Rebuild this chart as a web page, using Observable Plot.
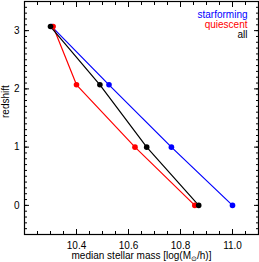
<!DOCTYPE html>
<html><head><meta charset="utf-8">
<script src="https://cdn.jsdelivr.net/npm/d3@7"></script>
<script src="https://cdn.jsdelivr.net/npm/@observablehq/plot@0.6"></script>
<style>body{margin:0;background:#fff}svg{display:block}</style>
</head><body><div id="chart"></div>
<script>
const redshift = [3.07, 2.07, 1.0, 0.0];
const massStarforming = [10.305, 10.525, 10.765, 11.0];
const massQuiescent = [10.31, 10.40, 10.625, 10.855];
const massAll = [10.30, 10.49, 10.67, 10.87];
const seriesNames = ["starforming", "quiescent", "all"];
const seriesColors = ["blue", "red", "black"];
const xMajor = [10.4, 10.6, 10.8, 11.0];
const xMinor = d3.range(10.2, 11.1001, 0.05);
const yMajor = [0, 1, 2, 3];
const yMinor = d3.range(-0.5, 3.5001, 0.1);
const xLabel = "median stellar mass [log(M\u2299/h)]";
const yLabel = "redshift";

const rows = [];
[massStarforming, massQuiescent, massAll].forEach((arr, i) =>
  arr.forEach((m, j) => rows.push({series: seriesNames[i], mass: m, z: redshift[j]})));

const font = "Liberation Sans, Arial, sans-serif";
const noLabel = () => "";
const chart = Plot.plot({
  width: 259, height: 262,
  marginLeft: 24, marginRight: 1, marginTop: 1, marginBottom: 28,
  style: {fontFamily: font, fontSize: "10px", background: "white"},
  x: {domain: [10.2, 11.1]},
  y: {domain: [-0.5, 3.5]},
  color: {domain: seriesNames, range: seriesColors},
  marks: [
    Plot.axisX(xMajor, {anchor: "bottom", tickSize: -5, tickFormat: noLabel, label: null}),
    Plot.axisX(xMajor, {anchor: "top", tickSize: -5, tickFormat: noLabel, label: null}),
    Plot.axisX(xMinor, {anchor: "bottom", tickSize: -3, tickFormat: noLabel, label: null}),
    Plot.axisX(xMinor, {anchor: "top", tickSize: -3, tickFormat: noLabel, label: null}),
    Plot.axisY(yMajor, {anchor: "left", tickSize: -5, tickFormat: noLabel, label: null}),
    Plot.axisY(yMajor, {anchor: "right", tickSize: -5, tickFormat: noLabel, label: null}),
    Plot.axisY(yMinor, {anchor: "left", tickSize: -3, tickFormat: noLabel, label: null}),
    Plot.axisY(yMinor, {anchor: "right", tickSize: -3, tickFormat: noLabel, label: null}),
    Plot.axisX(xMajor, {anchor: "bottom", tickSize: 0, tickPadding: 7, tickFormat: d3.format(".1f"), label: null, fontSize: 10}),
    Plot.axisY(yMajor, {anchor: "left", tickSize: 0, tickPadding: 5, tickFormat: d3.format("d"), label: null, fontSize: 10}),
    Plot.frame({stroke: "black", strokeWidth: 1.2}),
    Plot.line(rows, {x: "mass", y: "z", stroke: "series", z: "series", strokeWidth: 1.2}),
    Plot.dot(rows, {x: "mass", y: "z", fill: "series", r: 2.8}),
    Plot.text([seriesNames[0]], {text: d => d, fill: seriesColors[0], frameAnchor: "top-right", lineAnchor: "middle", dx: -11, dy: 13, textAnchor: "end", fontSize: 10}),
    Plot.text([seriesNames[1]], {text: d => d, fill: seriesColors[1], frameAnchor: "top-right", lineAnchor: "middle", dx: -11, dy: 23, textAnchor: "end", fontSize: 10}),
    Plot.text([seriesNames[2]], {text: d => d, fill: seriesColors[2], frameAnchor: "top-right", lineAnchor: "middle", dx: -11, dy: 33, textAnchor: "end", fontSize: 10}),
    Plot.text([yLabel], {text: d => d, frameAnchor: "left", lineAnchor: "middle", rotate: -90, dx: -19, fontSize: 10}),
    Plot.text([xLabel], {text: d => d, frameAnchor: "bottom", lineAnchor: "middle", dy: 21, fontSize: 10})
  ]
});
// subscript the sun symbol in the x label
d3.select(chart).selectAll("text").each(function() {
  const t = d3.select(this);
  if (t.text() === xLabel) {
    const [pre, post] = xLabel.split("\u2299");
    t.text(null);
    t.append("tspan").text(pre);
    t.append("tspan").attr("dy", "2").attr("font-size", "7").text("\u2299");
    t.append("tspan").attr("dy", "-2").text(post);
  }
});
document.getElementById("chart").append(chart);
</script></body></html>
